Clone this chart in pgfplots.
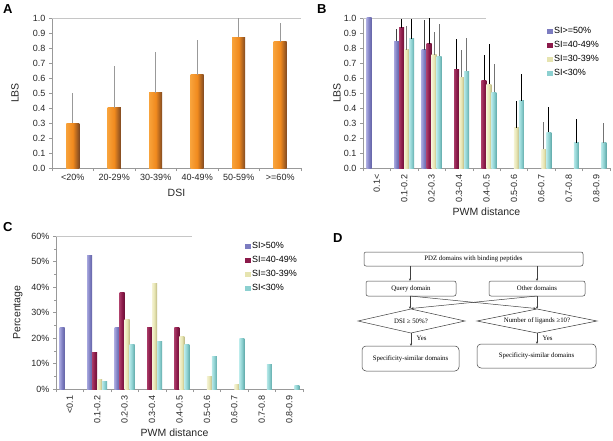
\documentclass[border=0pt]{standalone}
\usepackage{pgfplots}
\pgfplotsset{compat=1.18}
\usepackage{fontspec}
\setmainfont{Liberation Sans}
\newfontfamily\serif{Liberation Serif}
\usetikzlibrary{arrows.meta}
\definecolor{ablue}{HTML}{7C7CC0}
\definecolor{ablueL}{HTML}{A4A4DC}
\definecolor{ablueD}{HTML}{6262A4}
\definecolor{amar}{HTML}{8B1A4A}
\definecolor{amarL}{HTML}{A83A66}
\definecolor{amarD}{HTML}{6A1236}
\definecolor{ayel}{HTML}{E6E4B0}
\definecolor{ayelL}{HTML}{F4F2D2}
\definecolor{ayelD}{HTML}{BAB682}
\definecolor{acy}{HTML}{8CD0D0}
\definecolor{acyL}{HTML}{B6E8E8}
\definecolor{acyD}{HTML}{62AAAA}
\definecolor{aorL}{HTML}{F8A23A}
\definecolor{aorM}{HTML}{F08A1E}
\definecolor{aorD}{HTML}{7E4822}
\pgfplotsset{
  panel/.style={
    scale only axis,
    axis x line*=bottom, axis y line*=left,
    axis line style={gray!80},
    tick style={gray!80, line width=0.5pt},
    tick align=outside,
    major tick length=3pt,
    minor tick length=2pt,
    xtick pos=bottom, ytick pos=left,
    tick label style={font=\fontsize{9}{10}\selectfont, text=black!85},
    label style={font=\fontsize{10.5}{12}\selectfont, text=black!85},
    /pgf/number format/assume math mode=true,
    x tick label as interval,
    ymin=0,
    legend cell align=left,
    legend style={draw=none, fill=none, font=\fontsize{9}{10}\selectfont, row sep=2.2pt,
      anchor=north west, inner sep=0pt},
  },
  sblue/.style={draw=none, left color=ablueL, right color=ablueD, middle color=ablue},
  smar/.style={draw=none, left color=amarL, right color=amarD, middle color=amar},
  syel/.style={draw=none, left color=ayelL, right color=ayelD, middle color=ayel},
  scy/.style={draw=none, left color=acyL, right color=acyD, middle color=acy},
}
% one bar of panel A: x, value, upper error
\newcommand{\abar}[3]{\addplot[ybar, bar width=13pt, bar shift=0pt, draw=none,
  left color=aorL, right color=aorD, middle color=aorM, forget plot,
  error bars/.cd, y dir=plus, y explicit, error mark=none,
  error bar style={gray!80, line width=0.6pt}]
  coordinates {(#1,#2)+-(0,#3)};}
% one bar of panel B: shift, style, x, value, upper error, error colour
\newcommand{\bbar}[6]{\addplot[ybar, bar width=5pt, bar shift=#1, #2, forget plot,
  error bars/.cd, y dir=plus, y explicit, error mark=none,
  error bar style={#6, line width=0.9pt, xshift=#1}]
  coordinates {(#3,#4)+-(0,#5)};}
% one bar of panel C: shift, style, x, value
\newcommand{\cbar}[4]{\addplot[ybar, bar width=5pt, bar shift=#1, #2, forget plot]
  coordinates {(#3,#4)};}
\newcommand{\legsq}[2]{\addlegendimage{legend image code/.code={\fill[#1] (0pt,-2.2pt) rectangle (4.5pt,2.2pt);}}\addlegendentry{#2}}
\begin{document}
\begin{tikzpicture}[x=1pt,y=1pt]
\useasboundingbox (0,0) rectangle (613,440);
% ---------------- Panel A
\begin{axis}[panel,
  at={(52pt,272pt)}, anchor=south west,
  width=249pt, height=150pt,
  xmin=-0.5, xmax=5.5, ymax=1.0,
  xtick={-0.5,0.5,...,5.5},
  xticklabels={<20\%,20-29\%,30-39\%,40-49\%,50-59\%,>=60\%},
  ytick={0,0.1,...,1.0},
  yticklabel style={/pgf/number format/.cd, fixed, fixed zerofill, precision=1},
  xlabel={DSI}, ylabel={LBS},
  xlabel style={at={(axis description cs:0.5,-0.167)}, anchor=center},
  ylabel style={at={(axis description cs:-0.149,0.5)}, anchor=center},
]
\draw[gray!45] (rel axis cs:0,1) -- (rel axis cs:1,1) -- (rel axis cs:1,0);
\abar{0}{0.30}{0.20}
\abar{1}{0.40}{0.28}
\abar{2}{0.50}{0.275}
\abar{3}{0.62}{0.23}
\abar{4}{0.87}{0.13}
\abar{5}{0.84}{0.125}
\end{axis}
% ---------------- Panel B
\begin{axis}[panel,
  at={(363pt,272pt)}, anchor=south west,
  width=247pt, height=150pt,
  xmin=-0.5, xmax=8.5, ymax=1.0,
  xtick={-0.5,0.5,...,8.5},
  xticklabels={0.1<,0.1-0.2,0.2-0.3,0.3-0.4,0.4-0.5,0.5-0.6,0.6-0.7,0.7-0.8,0.8-0.9},
  xticklabel style={rotate=90, anchor=east},
  ytick={0,0.1,...,1.0},
  yticklabel style={/pgf/number format/.cd, fixed, fixed zerofill, precision=1},
  xlabel={PWM distance}, ylabel={LBS},
  xlabel style={at={(axis description cs:0.5,-0.293)}, anchor=center},
  ylabel style={at={(axis description cs:-0.105,0.5)}, anchor=center},
  legend style={at={(axis description cs:0.745,0.953)}},
]
\draw[gray!45] (rel axis cs:0,1) -- (rel axis cs:0.5,1);
% SI>=50%
\bbar{-7.5pt}{sblue}{0}{1.0}{0}{black!75}
\bbar{-7.5pt}{sblue}{1}{0.845}{0.08}{black!75}
\bbar{-7.5pt}{sblue}{2}{0.79}{0.195}{black!75}
% SI=40-49%
\bbar{-2.5pt}{smar}{1}{0.935}{0.055}{black}
\bbar{-2.5pt}{smar}{2}{0.83}{0.17}{black}
\bbar{-2.5pt}{smar}{3}{0.66}{0.20}{black}
\bbar{-2.5pt}{smar}{4}{0.585}{0.17}{black}
% SI=30-39%
\bbar{2.5pt}{syel}{1}{0.79}{0.155}{black!55}
\bbar{2.5pt}{syel}{2}{0.755}{0.15}{black!55}
\bbar{2.5pt}{syel}{3}{0.605}{0.18}{black!55}
\bbar{2.5pt}{syel}{4}{0.56}{0.27}{black}
\bbar{2.5pt}{syel}{5}{0.27}{0.18}{black}
\bbar{2.5pt}{syel}{6}{0.125}{0.18}{black!55}
% SI<30%
\bbar{7.5pt}{scy}{1}{0.86}{0.13}{black}
\bbar{7.5pt}{scy}{2}{0.745}{0.215}{black!55}
\bbar{7.5pt}{scy}{3}{0.645}{0.22}{black!55}
\bbar{7.5pt}{scy}{4}{0.505}{0.19}{black!55}
\bbar{7.5pt}{scy}{5}{0.45}{0.175}{black}
\bbar{7.5pt}{scy}{6}{0.24}{0.165}{black}
\bbar{7.5pt}{scy}{7}{0.17}{0.155}{black}
\bbar{7.5pt}{scy}{8}{0.17}{0.13}{black!55}
\legsq{ablue}{SI>=50\%}
\legsq{amar}{SI=40-49\%}
\legsq{ayel}{SI=30-39\%}
\legsq{acy}{SI<30\%}
\end{axis}
% ---------------- Panel C
\begin{axis}[panel,
  at={(56pt,51pt)}, anchor=south west,
  width=247pt, height=153pt,
  xmin=-0.5, xmax=8.5, ymax=60,
  xtick={-0.5,0.5,...,8.5},
  xticklabels={<0.1,0.1-0.2,0.2-0.3,0.3-0.4,0.4-0.5,0.5-0.6,0.6-0.7,0.7-0.8,0.8-0.9},
  xticklabel style={rotate=90, anchor=east},
  ytick={0,10,...,60}, minor y tick num=1,
  yticklabel={\pgfmathprintnumber{\tick}\%},
  xlabel={PWM distance}, ylabel={Percentage},
  xlabel style={at={(axis description cs:0.48,-0.288)}, anchor=center},
  ylabel style={at={(axis description cs:-0.154,0.5)}, anchor=center},
  legend style={at={(axis description cs:0.765,0.974)}},
]
\draw[gray!45] (rel axis cs:0,1) -- (rel axis cs:0.55,1);
\draw[gray!45] (rel axis cs:1,1) -- (rel axis cs:1,0);
\cbar{-7.5pt}{sblue}{0}{24}
\cbar{-7.5pt}{sblue}{1}{52.5}
\cbar{-7.5pt}{sblue}{2}{24}
\cbar{-2.5pt}{smar}{1}{14.3}
\cbar{-2.5pt}{smar}{2}{38}
\cbar{-2.5pt}{smar}{3}{24}
\cbar{-2.5pt}{smar}{4}{24}
\cbar{2.5pt}{syel}{1}{3.8}
\cbar{2.5pt}{syel}{2}{27.3}
\cbar{2.5pt}{syel}{3}{41.5}
\cbar{2.5pt}{syel}{4}{20.5}
\cbar{2.5pt}{syel}{5}{4.8}
\cbar{2.5pt}{syel}{6}{1.9}
\cbar{7.5pt}{scy}{1}{2.9}
\cbar{7.5pt}{scy}{2}{17.5}
\cbar{7.5pt}{scy}{3}{18.5}
\cbar{7.5pt}{scy}{4}{17.5}
\cbar{7.5pt}{scy}{5}{12.8}
\cbar{7.5pt}{scy}{6}{20}
\cbar{7.5pt}{scy}{7}{9.5}
\cbar{7.5pt}{scy}{8}{1.2}
\legsq{ablue}{SI>50\%}
\legsq{amar}{SI=40-49\%}
\legsq{ayel}{SI=30-39\%}
\legsq{acy}{SI<30\%}
\end{axis}
% ---------------- Panel letters
\node[anchor=north west, inner sep=0pt, font=\fontsize{13}{13}\selectfont\bfseries] at (3,436) {A};
\node[anchor=north west, inner sep=0pt, font=\fontsize{13}{13}\selectfont\bfseries] at (317,436) {B};
\node[anchor=north west, inner sep=0pt, font=\fontsize{13}{13}\selectfont\bfseries] at (3,218) {C};
\node[anchor=north west, inner sep=0pt, font=\fontsize{13}{13}\selectfont\bfseries] at (333,207) {D};
% ---------------- Panel D flowchart
\begin{scope}[line width=0.5pt, draw=black!75, font=\serif\fontsize{6.8}{8}\selectfont,
  arr/.style={-{Stealth[length=2.6pt,width=2.2pt]}}]
\draw[rounded corners=2pt] (364,188) rectangle (583,174);
\node at (473.5,181) {PDZ domains with binding peptides};
\draw[rounded corners=2pt] (366,159) rectangle (456,144);
\node at (411,151.5) {Query domain};
\draw[rounded corners=2pt] (489,159) rectangle (585,144);
\node at (537,151.5) {Other domains};
\draw[arr] (410,174) -- (410,159);
\draw[arr] (537,174) -- (537,159);
\draw[arr] (410,144) -- (410,131);
\draw[arr] (537,144) -- (537,131);
\draw[arr] (410,144) -- (536,131.5);
\draw[arr] (537,144) -- (411,131.5);
\draw (358,119) -- (411,131) -- (465,119) -- (411,107) -- cycle;
\node at (411,119) {DSI ≥ 50\%?};
\draw (477,119) -- (537,131) -- (597,119) -- (537,107) -- cycle;
\node at (537,119) {Number of ligands ≥10?};
\draw[arr] (411,107) -- (411,94);
\draw[arr] (537,107) -- (537,96);
\node[anchor=west] at (413,102) {Yes};
\node[anchor=west] at (539,102) {Yes};
\draw[rounded corners=4pt] (362,94) rectangle (459,69);
\node at (410.5,81.5) {Specificity-similar domains};
\draw[rounded corners=4pt] (477,96) rectangle (596,72);
\node at (536.5,84) {Specificity-similar domains};
\end{scope}
\end{tikzpicture}
\end{document}
